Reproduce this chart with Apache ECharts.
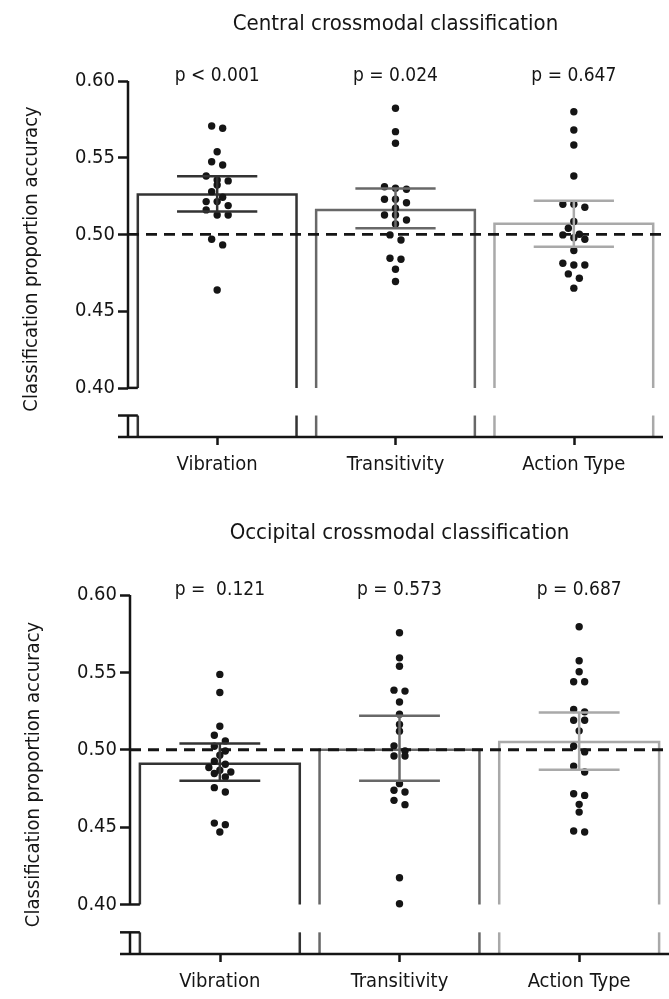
<!DOCTYPE html>
<html>
<head>
<meta charset="utf-8">
<script src="https://cdn.jsdelivr.net/npm/echarts@6/dist/echarts.min.js"></script>
<style>
  html, body { margin: 0; background: #fff; }
  #chart { width: 669px; height: 999px; }
</style>
</head>
<body>
<div id="chart"></div>
<script>
const categories = ['Vibration', 'Transitivity', 'Action Type'];
const yTicks = [0.40, 0.45, 0.50, 0.55, 0.60];
const chanceLevel = 0.5;

const centralMeans = [0.526, 0.516, 0.507];
const centralLow = [0.515, 0.504, 0.492];
const centralHigh = [0.538, 0.530, 0.522];
const centralP = ['p < 0.001', 'p = 0.024', 'p = 0.647'];
const centralVibration = [0.5707, 0.5692, 0.5539, 0.5474, 0.5453, 0.5381, 0.5355, 0.5349, 0.5322, 0.5279,
  0.5242, 0.5214, 0.5214, 0.5188, 0.5160, 0.5127, 0.5127, 0.4969, 0.4932, 0.4638];
const centralTransitivity = [0.5822, 0.5670, 0.5594, 0.5311, 0.5301, 0.5295, 0.5229, 0.5229, 0.5207, 0.5171,
  0.5127, 0.5127, 0.5094, 0.5068, 0.4997, 0.4964, 0.4845, 0.4838, 0.4773, 0.4693];
const centralActionType = [0.5800, 0.5681, 0.5583, 0.5381, 0.5197, 0.5197, 0.5177, 0.5084, 0.5040, 0.5001,
  0.4997, 0.4979, 0.4969, 0.4895, 0.4812, 0.4801, 0.4801, 0.4743, 0.4715, 0.4650];

const occipitalMeans = [0.491, 0.500, 0.505];
const occipitalLow = [0.480, 0.480, 0.487];
const occipitalHigh = [0.504, 0.522, 0.524];
const occipitalP = ['p =  0.121', 'p = 0.573', 'p = 0.687'];
const occipitalVibration = [0.5487, 0.5370, 0.5152, 0.5094, 0.5057, 0.5023, 0.4992, 0.4965, 0.4926, 0.4906,
  0.4885, 0.4867, 0.4856, 0.4846, 0.4824, 0.4755, 0.4727, 0.4526, 0.4516, 0.4468];
const occipitalTransitivity = [0.5756, 0.5594, 0.5540, 0.5385, 0.5379, 0.5309, 0.5230, 0.5163, 0.5120, 0.5025,
  0.4992, 0.4960, 0.4960, 0.4781, 0.4738, 0.4727, 0.4673, 0.4645, 0.4173, 0.4005];
const occipitalActionType = [0.5795, 0.5575, 0.5504, 0.5439, 0.5439, 0.5260, 0.5245, 0.5191, 0.5191, 0.5122,
  0.5023, 0.4986, 0.4893, 0.4856, 0.4716, 0.4705, 0.4647, 0.4597, 0.4475, 0.4468];

// axis layout: 0.40 is the visible floor, then a break down to the x axis
const Y_MAX = 0.60;
const Y_FLOOR = 0.40;
const BREAK_TOP = 0.382;
const Y_MIN = 0.368;
const FONT = "'DejaVu Sans Condensed', 'Liberation Sans', sans-serif";
const INK = '#151515';
const shades = ['#333333', '#686868', '#a9a9a9'];
const LW = 2.5;
const BAR_WIDTH = 0.89;
const CAP_WIDTH = 0.45;
const DOT_R = 3.7;
const DOT_SPACING = 11;
const ROW_TOL = 6;

const panels = [
  {
    title: 'Central crossmodal classification', titleTop: 8,
    grid: { left: 128, right: 6, top: 81, height: 356 },
    means: centralMeans, low: centralLow, high: centralHigh, p: centralP,
    points: [centralVibration, centralTransitivity, centralActionType]
  },
  {
    title: 'Occipital crossmodal classification', titleTop: 517,
    grid: { left: 130, right: 0, top: 595, height: 359 },
    means: occipitalMeans, low: occipitalLow, high: occipitalHigh, p: occipitalP,
    points: [occipitalVibration, occipitalTransitivity, occipitalActionType]
  }
];

// prism-like scatter: points in the same pixel row are spread symmetrically
function swarm(values, pxPerUnit) {
  const order = values.map((v, i) => i).sort((a, b) => values[b] - values[a]);
  const offsets = new Array(values.length).fill(0);
  let row = [];
  const flush = () => {
    row.forEach((k, j) => { offsets[k] = (j - (row.length - 1) / 2) * DOT_SPACING; });
    row = [];
  };
  order.forEach(k => {
    if (row.length && (values[row[0]] - values[k]) * pxPerUnit > ROW_TOL) flush();
    row.push(k);
  });
  flush();
  return offsets;
}

function renderBar(params, api) {
  const idx = api.value(0);
  const top = api.coord([idx, api.value(1)]);
  const floor = api.coord([idx, Y_FLOOR])[1];
  const brk = api.coord([idx, BREAK_TOP])[1];
  const bottom = api.coord([idx, Y_MIN])[1];
  const half = api.size([1, 0])[0] * BAR_WIDTH / 2;
  const l = top[0] - half, r = top[0] + half;
  const style = { stroke: shades[idx], lineWidth: LW, fill: null };
  return {
    type: 'group',
    children: [
      { type: 'polyline', shape: { points: [[l, floor], [l, top[1]], [r, top[1]], [r, floor]] }, style },
      { type: 'line', shape: { x1: l, y1: brk, x2: l, y2: bottom }, style },
      { type: 'line', shape: { x1: r, y1: brk, x2: r, y2: bottom }, style }
    ]
  };
}

function renderAxes(params, api) {
  const cs = params.coordSys;
  const x0 = cs.x, x1 = cs.x + cs.width;
  const yTop = api.coord([0, Y_MAX])[1];
  const yFloor = api.coord([0, Y_FLOOR])[1];
  const yBrk = api.coord([0, BREAK_TOP])[1];
  const yBottom = api.coord([0, Y_MIN])[1];
  const yChance = api.coord([0, api.value(1)])[1];
  const firstBar = api.coord([0, Y_MAX])[0] - api.size([1, 0])[0] * BAR_WIDTH / 2;
  const style = { stroke: INK, lineWidth: LW };
  const line = (ax, ay, bx, by, extra) => ({
    type: 'line', shape: { x1: ax, y1: ay, x2: bx, y2: by }, style: Object.assign({}, style, extra)
  });
  return {
    type: 'group',
    children: [
      line(x0, yTop, x0, yFloor),
      line(x0, yFloor, firstBar, yFloor),
      line(x0, yBrk, x0, yBottom),
      line(x0 - 10, yBrk, firstBar, yBrk),
      line(x0 - 10, yBottom, x1, yBottom),
      line(x0, yChance, x1, yChance, { lineDash: [11, 7], lineWidth: 2.8 })
    ]
  };
}

function renderDot(params, api) {
  const c = api.coord([api.value(0), api.value(1)]);
  return { type: 'circle', shape: { cx: c[0] + api.value(2), cy: c[1], r: DOT_R }, style: { fill: INK } };
}

function makeErrorRenderer(pLabels) {
  return function (params, api) {
    const idx = api.value(0);
    const lo = api.coord([idx, api.value(1)]);
    const hi = api.coord([idx, api.value(2)]);
    const yTop = api.coord([idx, Y_MAX])[1];
    const half = api.size([1, 0])[0] * CAP_WIDTH / 2;
    const style = { stroke: shades[idx], lineWidth: LW };
    return {
      type: 'group',
      children: [
        { type: 'line', shape: { x1: hi[0], y1: hi[1], x2: lo[0], y2: lo[1] }, style },
        { type: 'line', shape: { x1: hi[0] - half, y1: hi[1], x2: hi[0] + half, y2: hi[1] }, style },
        { type: 'line', shape: { x1: lo[0] - half, y1: lo[1], x2: lo[0] + half, y2: lo[1] }, style },
        {
          type: 'text',
          style: {
            text: pLabels[params.dataIndex], x: hi[0], y: yTop - 5,
            align: 'center', verticalAlign: 'middle', font: '19px ' + FONT, fill: INK
          }
        }
      ]
    };
  };
}

const option = {
  animation: false,
  backgroundColor: '#fff',
  title: [], grid: [], xAxis: [], yAxis: [], series: []
};

panels.forEach((pn, i) => {
  const pxPerUnit = pn.grid.height / (Y_MAX - Y_MIN);
  option.title.push({
    text: pn.title,
    left: pn.grid.left + (669 - pn.grid.left - pn.grid.right) / 2 - 5,
    top: pn.titleTop,
    textAlign: 'center',
    textStyle: { fontFamily: FONT, fontSize: 22, fontWeight: 'normal', color: INK }
  });
  option.grid.push(pn.grid);
  option.xAxis.push({
    type: 'category', gridIndex: i, data: categories,
    axisLine: { show: false },
    axisTick: { show: true, alignWithLabel: true, length: 8, lineStyle: { color: INK, width: LW } },
    axisLabel: { fontFamily: FONT, fontSize: 20, color: INK, margin: 18 },
    splitLine: { show: false }
  });
  option.yAxis.push({
    type: 'value', gridIndex: i, min: Y_MIN, max: Y_MAX,
    name: 'Classification proportion accuracy',
    nameLocation: 'middle', nameGap: 86,
    nameTextStyle: { fontFamily: FONT, fontSize: 20, color: INK },
    axisLine: { show: false },
    axisTick: { show: true, customValues: yTicks, length: 10, lineStyle: { color: INK, width: LW } },
    axisLabel: {
      customValues: yTicks, fontFamily: FONT, fontSize: 20, color: INK, margin: 13,
      formatter: v => v.toFixed(2)
    },
    splitLine: { show: false }
  });
  option.series.push({
    type: 'custom', xAxisIndex: i, yAxisIndex: i, z: 2,
    renderItem: renderBar,
    data: pn.means.map((m, k) => [k, m])
  });
  option.series.push({
    type: 'custom', xAxisIndex: i, yAxisIndex: i, z: 3,
    renderItem: renderAxes,
    data: [[0, chanceLevel]]
  });
  const dots = [];
  pn.points.forEach((vals, k) => {
    const off = swarm(vals, pxPerUnit);
    vals.forEach((v, j) => dots.push([k, v, off[j]]));
  });
  option.series.push({
    type: 'custom', xAxisIndex: i, yAxisIndex: i, z: 4,
    renderItem: renderDot,
    data: dots
  });
  option.series.push({
    type: 'custom', xAxisIndex: i, yAxisIndex: i, z: 5,
    renderItem: makeErrorRenderer(pn.p),
    data: pn.low.map((lo, k) => [k, lo, pn.high[k]])
  });
});

const chart = echarts.init(document.getElementById('chart'));
chart.setOption(option);
</script>
</body>
</html>
